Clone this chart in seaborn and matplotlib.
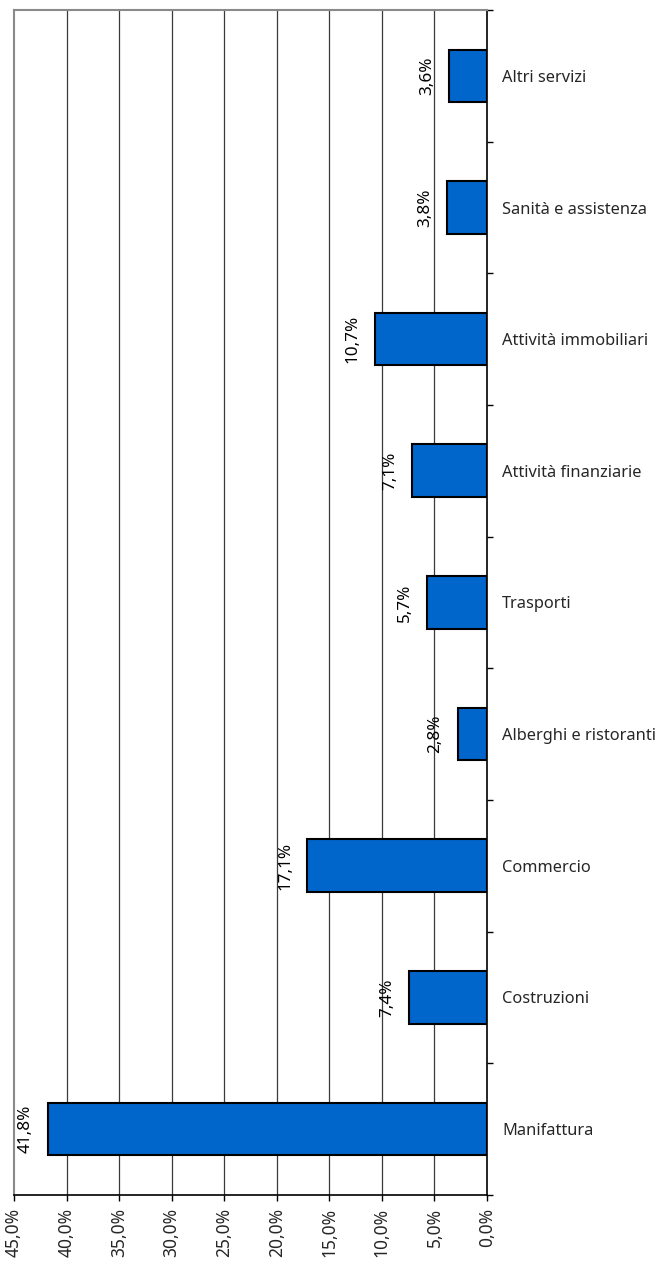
import matplotlib
matplotlib.use("Agg")
import matplotlib.pyplot as plt
import seaborn as sns
import pandas as pd
from matplotlib.ticker import FixedLocator, FuncFormatter

# Sector shares, listed top to bottom
settori = [
    "Altri servizi",
    "Sanità e assistenza",
    "Attività immobiliari",
    "Attività finanziarie",
    "Trasporti",
    "Alberghi e ristoranti",
    "Commercio",
    "Costruzioni",
    "Manifattura",
]
quote = [3.6, 3.8, 10.7, 7.1, 5.7, 2.8, 17.1, 7.4, 41.8]
asse_x = [0, 5, 10, 15, 20, 25, 30, 35, 40, 45]

df = pd.DataFrame({"settore": settori, "quota": quote})

sns.set_theme(style="white")
plt.rcParams["font.family"] = ["Noto Sans", "DejaVu Sans"]

fig = plt.figure(figsize=(6.59, 12.64), dpi=100)
ax = fig.add_axes([14 / 659, 1 - 1195 / 1264, (487 - 14) / 659, (1195 - 10) / 1264])

sns.barplot(data=df, x="quota", y="settore", order=settori, orient="h",
            color="#0066CC", saturation=1, width=0.4,
            edgecolor="black", linewidth=1.5, ax=ax, zorder=3)

ax.set_xlim(45, 0)
ax.set_ylim(len(settori) - 0.5, -0.5)

# vertical gridlines
for v in asse_x[1:-1]:
    ax.axvline(v, color="#3a3a3a", lw=0.9, zorder=1)

# x axis
ax.xaxis.set_major_locator(FixedLocator(asse_x))
ax.xaxis.set_major_formatter(FuncFormatter(lambda v, p: f"{v:.1f}".replace(".", ",") + "%"))
ax.tick_params(axis="x", which="major", direction="out", length=4.5, width=1,
               color="black", labelrotation=90, labelsize=12.5, pad=5, bottom=True)

# y axis on the right: boundary ticks, labels centred on bars
ax.yaxis.tick_right()
ax.yaxis.set_major_locator(FixedLocator([i - 0.5 for i in range(len(settori) + 1)]))
ax.yaxis.set_major_formatter(FuncFormatter(lambda v, p: ""))
ax.set_yticks(range(len(settori)), settori, minor=True)
ax.tick_params(axis="y", which="major", direction="out", length=4, width=1,
               color="black", right=True, left=False)
ax.tick_params(axis="y", which="minor", length=0, pad=11, labelsize=11.8,
               right=True, left=False, labelright=True, labelleft=False)
ax.set_xlabel("")
ax.set_ylabel("")

for side in ["top", "left"]:
    ax.spines[side].set_color("#8a8a8a")
    ax.spines[side].set_linewidth(1.5)
for side in ["right", "bottom"]:
    ax.spines[side].set_color("black")
    ax.spines[side].set_linewidth(1.2)

# value labels beside each bar end
for i, v in enumerate(quote):
    ax.annotate(f"{v:.1f}".replace(".", ",") + "%", xy=(v, i),
                xytext=(-16, 0), textcoords="offset points",
                ha="center", va="center", rotation=90, fontsize=12.3,
                color="black", zorder=4)

fig.savefig("out.png", dpi=100, facecolor="white")
